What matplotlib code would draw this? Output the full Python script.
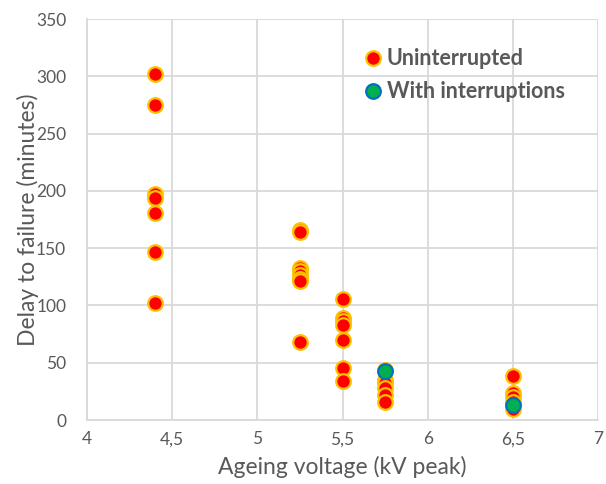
import matplotlib
matplotlib.use("Agg")
import matplotlib.pyplot as plt
from matplotlib.ticker import FuncFormatter, MultipleLocator

# ── data ──────────────────────────────────────────────────────────────────────
UNINT_X = [4.4] * 7 + [5.25] * 8 + [5.5] * 7 + [5.75] * 6 + [6.5] * 5
UNINT_Y = [302, 275, 197, 194, 181, 147, 102,
           166, 164, 133, 130, 127, 123, 121, 68,
           106, 89, 86, 83, 70, 45, 34,
           44, 35, 32, 28, 22, 16,
           38, 24, 20, 16, 10]
INT_X = [5.75, 6.5]
INT_Y = [43, 13]

TEXT = "#595959"
GRID = "#d9d9d9"

plt.rcParams["font.family"] = ["Lato", "DejaVu Sans"]

fig = plt.figure(figsize=(6.06, 4.84), dpi=100)
ax = fig.add_axes([0.1436, 0.1322, 0.8432, 0.8285])

ax.plot(UNINT_X, UNINT_Y, "o", ms=10.5, mfc="#ff0000", mec="#ffc000", mew=1.6,
        linestyle="None", label="Uninterrupted", zorder=3)
ax.plot(INT_X, INT_Y, "o", ms=10.5, mfc="#00b050", mec="#0070c0", mew=1.6,
        linestyle="None", label="With interruptions", zorder=4)

ax.set_xlim(4, 7)
ax.set_ylim(0, 350)
ax.xaxis.set_major_locator(MultipleLocator(0.5))
ax.yaxis.set_major_locator(MultipleLocator(50))
ax.xaxis.set_major_formatter(FuncFormatter(lambda v, p: f"{v:g}".replace(".", ",")))

ax.grid(color=GRID, linewidth=1.3)
ax.set_axisbelow(True)
for s in ["top", "right"]:
    ax.spines[s].set_visible(False)
for s in ["left", "bottom"]:
    ax.spines[s].set_color(GRID)
    ax.spines[s].set_linewidth(1.3)
ax.tick_params(length=0, labelsize=12.5, colors=TEXT)
ax.tick_params(axis="y", pad=15)
ax.tick_params(axis="x", pad=8)

ax.set_xlabel("Ageing voltage (kV peak)", fontsize=16.5, color=TEXT, labelpad=6)
ax.set_ylabel("Delay to failure (minutes)", fontsize=16.5, color=TEXT, labelpad=-2)

leg = ax.legend(loc="upper left", bbox_to_anchor=(0.5, 0.975), frameon=False,
                handletextpad=0.15, handlelength=1.0, labelspacing=0.55,
                prop={"size": 15.5, "weight": "bold"})
for t in leg.get_texts():
    t.set_color(TEXT)

fig.savefig("out.png", dpi=100)
